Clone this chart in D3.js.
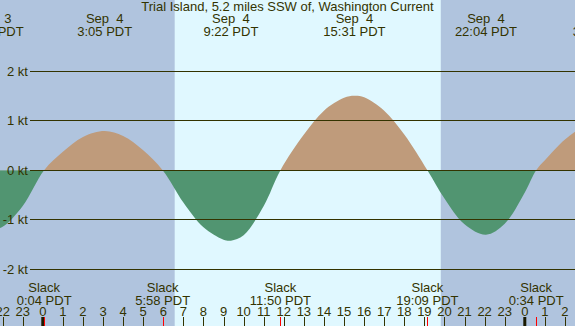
<!DOCTYPE html>
<html>
<head>
<meta charset="utf-8">
<script src="https://cdn.jsdelivr.net/npm/d3@7"></script>
<style>
  html, body { margin: 0; padding: 0; background: #b0c4de; }
  svg { display: block; }
  text { font-family: "Liberation Sans", Arial, sans-serif; font-size: 13px; fill: #333300; white-space: pre; }
</style>
</head>
<body>
<svg id="chart" width="575" height="326"></svg>
<script>
// ---- data (hours are measured from 00:00 PDT, Sep 4) ----
const title = "Trial Island, 5.2 miles SSW of, Washington Current";

// current speed (kt, + flood, - ebb)
const sampleHours  = [-3, -2, -1, 1, 2, 4, 5, 7, 8, 9, 10, 11, 13, 14, 15, 16, 17, 18, 20, 21, 23, 24, 25, 26, 27, 28];
const sampleSpeeds = [-1.16, -1.14, -0.72, 0.37, 0.67, 0.69, 0.40, -0.65, -1.15, -1.40, -1.31, -0.72, 0.72, 1.20, 1.46, 1.47, 1.20, 0.72, -0.57, -1.09, -1.08, -0.45, 0.20, 0.62, 0.89, 0.95];

// max flood / max ebb events
const peakHours  = [-2.5, 3.083, 9.367, 15.517, 22.067, 27.75];
const peakSpeeds = [-1.19, 0.79, -1.42, 1.50, -1.30, 0.95];
const peakDates  = ["Sep  3", "Sep  4", "Sep  4", "Sep  4", "Sep  4", "Sep  5"];
const peakTimes  = ["21:30 PDT", "3:05 PDT", "9:22 PDT", "15:31 PDT", "22:04 PDT", "3:45 PDT"];

// slack water events
const slackHours = [0.067, 5.967, 11.833, 19.15, 24.567];
const slackTimes = ["0:04 PDT", "5:58 PDT", "11:50 PDT", "19:09 PDT", "0:34 PDT"];

// daylight
const sunriseHour = 6.567;
const sunsetHour  = 19.817;

// axis
const speedTicks = [2, 1, 0, -1, -2];
const speedTickLabels = ["2 kt", "1 kt", "0 kt", "-1 kt", "-2 kt"];
const hourTicks = d3.range(-2, 27);
const midnightHours = [0, 24];

// ---- drawing ----
const W = 575, H = 326;
const svg = d3.select("#chart");

const x = d3.scaleLinear().domain([0, 24]).range([42.8, 524.8]);
const y = d3.scaleLinear().domain([-2, 2]).range([269.4, 71.0]);

const colNight = "#b0c4de", colDay = "#e0f8ff";
const colFlood = "#bf9b7b", colEbb = "#519571";
const colFg = "#333300";

svg.append("rect").attr("x", 0).attr("y", 0).attr("width", W).attr("height", H).attr("fill", colNight);
svg.append("rect").attr("x", x(sunriseHour)).attr("y", 0)
  .attr("width", x(sunsetHour) - x(sunriseHour)).attr("height", H).attr("fill", colDay);

// merge samples and events
const pts = [];
sampleHours.forEach((h, i) => pts.push({t: h, v: sampleSpeeds[i]}));
peakHours.forEach((h, i) => pts.push({t: h, v: peakSpeeds[i]}));
slackHours.forEach(h => pts.push({t: h, v: 0}));
pts.sort((a, b) => a.t - b.t);

const defs = svg.append("defs");
defs.append("clipPath").attr("id", "clipTop").append("rect")
  .attr("x", 0).attr("y", 0).attr("width", W).attr("height", y(0));
defs.append("clipPath").attr("id", "clipBot").append("rect")
  .attr("x", 0).attr("y", y(0)).attr("width", W).attr("height", H - y(0));

const area = d3.area()
  .x(d => x(d.t)).y0(y(0)).y1(d => y(d.v))
  .curve(d3.curveCatmullRom.alpha(0.5));

svg.append("path").datum(pts).attr("d", area).attr("fill", colFlood).attr("clip-path", "url(#clipTop)");
svg.append("path").datum(pts).attr("d", area).attr("fill", colEbb).attr("clip-path", "url(#clipBot)");

// horizontal grid lines + labels
speedTicks.forEach((v, i) => {
  const yy = Math.floor(y(v)) + 0.5;
  svg.append("line").attr("x1", 30).attr("x2", W).attr("y1", yy).attr("y2", yy)
    .attr("stroke", colFg).attr("stroke-width", 1);
  svg.append("text").attr("x", 28).attr("y", yy + 4.5).attr("text-anchor", "end").text(speedTickLabels[i]);
});

// title
svg.append("text").attr("x", W / 2).attr("y", 11).attr("text-anchor", "middle").text(title);

// peak labels at the top
peakHours.forEach((h, i) => {
  svg.append("text").attr("x", x(h)).attr("y", 23).attr("text-anchor", "middle").text(peakDates[i]);
  svg.append("text").attr("x", x(h)).attr("y", 36).attr("text-anchor", "middle").text(peakTimes[i]);
});

// slack labels at the bottom
slackHours.forEach((h, i) => {
  svg.append("text").attr("x", x(h)).attr("y", 292).attr("text-anchor", "middle").text("Slack");
  svg.append("text").attr("x", x(h)).attr("y", 304.5).attr("text-anchor", "middle").text(slackTimes[i]);
});

// hour ticks and labels
hourTicks.forEach(h => {
  const xx = Math.round(x(h)) + 0.5;
  svg.append("line").attr("x1", xx).attr("x2", xx).attr("y1", 317).attr("y2", H)
    .attr("stroke", colFg).attr("stroke-width", 1);
  const lab = ((h % 24) + 24) % 24;
  svg.append("text").attr("x", x(h)).attr("y", 316).attr("text-anchor", "middle").text(String(lab));
});
midnightHours.forEach(h => {
  svg.append("rect").attr("x", x(h) - 1.5).attr("y", 317).attr("width", 3).attr("height", H - 317).attr("fill", "#1a1a00");
});
slackHours.forEach(h => {
  const xx = Math.round(x(h)) + 0.5;
  svg.append("line").attr("x1", xx).attr("x2", xx).attr("y1", 317).attr("y2", H)
    .attr("stroke", "#ff0000").attr("stroke-width", 1);
});
</script>
</body>
</html>
